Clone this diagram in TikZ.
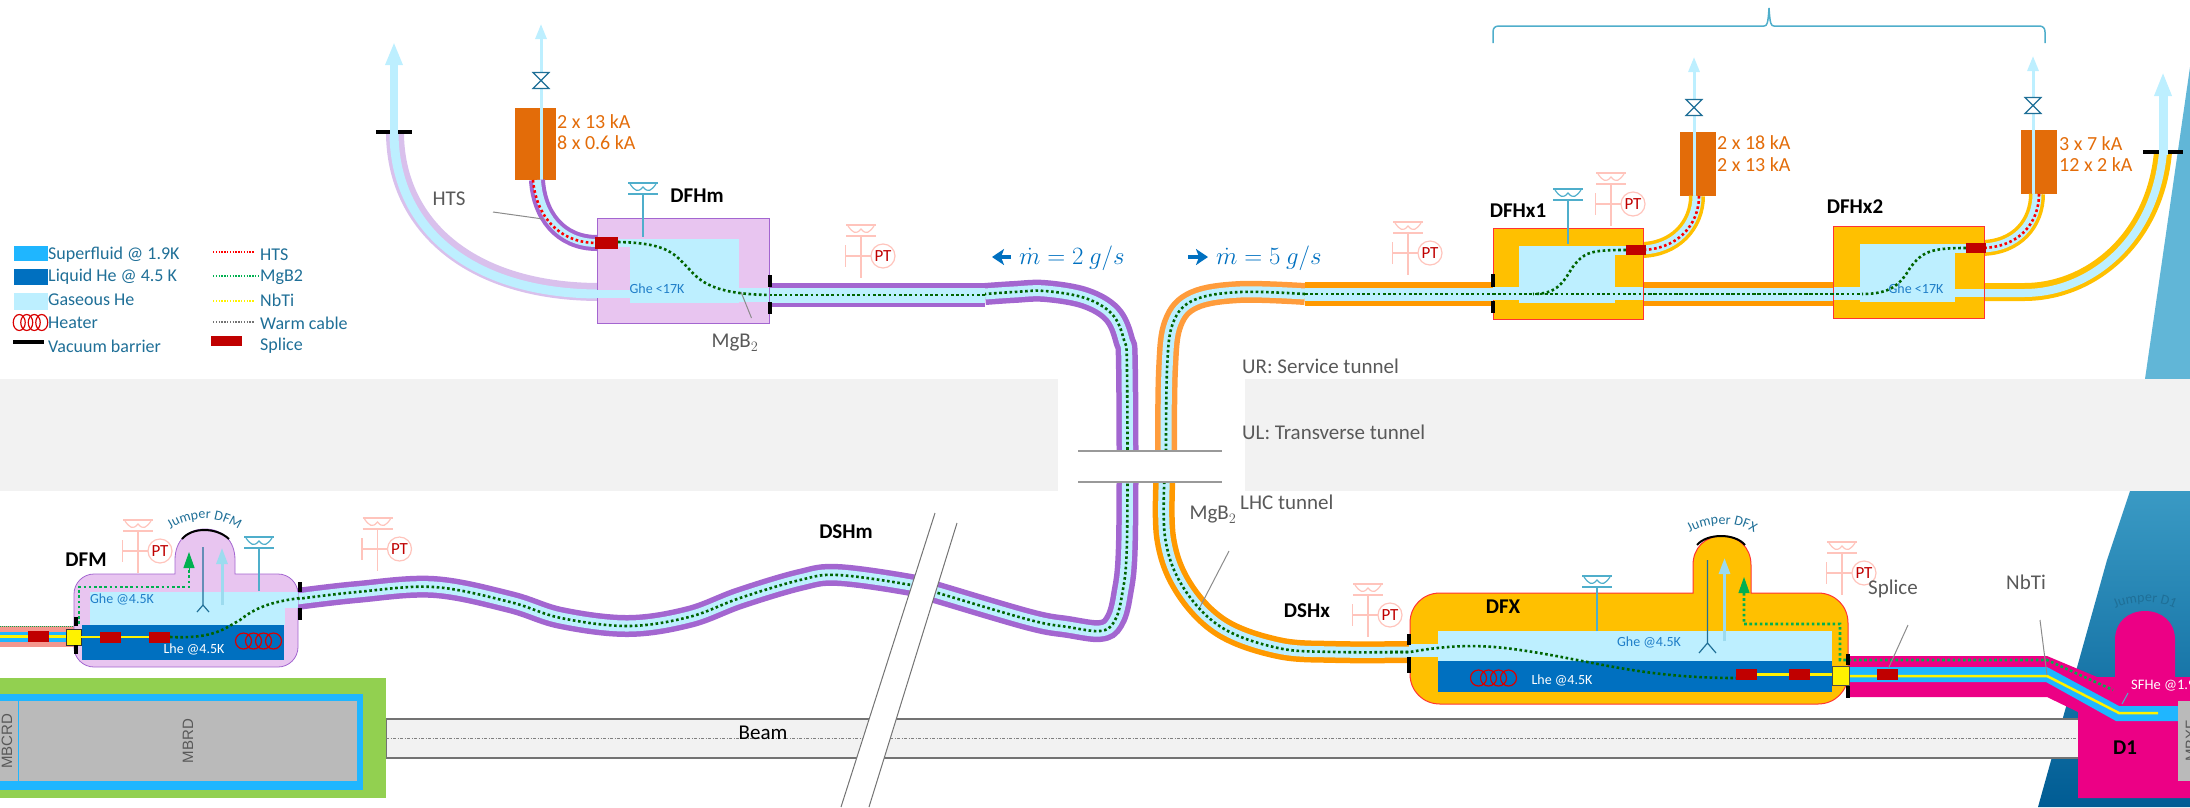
\documentclass[tikz,border=0pt]{standalone}
\usepackage{fontspec}
\setmainfont{Carlito}
\setsansfont{Liberation Sans}
\usetikzlibrary{arrows.meta,decorations.text}
\definecolor{hesf}{HTML}{1FB6FF}
\definecolor{helq}{HTML}{0070C0}
\definecolor{hegas}{HTML}{BDEFFF}
\definecolor{pipepurple}{HTML}{A366D0}
\definecolor{tubelilac}{HTML}{D9C0EC}
\definecolor{boxlilac}{HTML}{E8C5F0}
\definecolor{boxamber}{HTML}{FFC000}
\definecolor{pipeorange}{HTML}{FF9900}
\definecolor{pipepeach}{HTML}{FF9C3C}
\definecolor{leadorange}{HTML}{E36C09}
\definecolor{magentad}{HTML}{EC0085}
\definecolor{splicered}{HTML}{C00000}
\definecolor{wiredark}{HTML}{006400}
\definecolor{wiregreen}{HTML}{00B050}
\definecolor{txtblue}{HTML}{1F6F97}
\definecolor{ghetxt}{HTML}{1F7EC8}
\definecolor{graytxt}{HTML}{595959}
\definecolor{gaugeblue}{HTML}{4FAECB}
\definecolor{gaugepink}{HTML}{FFC4BC}
\definecolor{magnetgreen}{HTML}{92D050}
\definecolor{salmon}{HTML}{F4978E}
\definecolor{wedgetop}{HTML}{61B6D7}
\definecolor{wedgemid}{HTML}{3A9AC4}
\definecolor{wedgelow}{HTML}{005C94}
\tikzset{
  block/.style={inner sep=0pt, outer sep=0pt, draw=none},
  splice/.style={block, fill=splicered, minimum width=21pt, minimum height=11pt},
  barrier/.style={block, fill=black, minimum width=4pt},
  lbl/.style={inner sep=0pt, font=\fontsize{#1}{#1}\selectfont},
  lbl/.default=21,
  bold/.style={inner sep=0pt, font=\fontsize{21}{21}\selectfont\bfseries},
  tube/.style n args={3}{draw=#1, line width=#2pt, postaction={draw=hegas, line width=#3pt}},
  pipe/.style n args={3}{tube={#1}{#2}{#3},
    preaction={draw=black, opacity=0.1, transform canvas={yshift=-4pt}},
    postaction={draw=wiredark, line width=2.6pt, dash pattern=on 2.6pt off 2.6pt}},
  mgwire/.style={draw=wiredark, line width=2.6pt, dash pattern=on 2.6pt off 2.6pt},
  gwire/.style={draw=wiregreen, line width=2.6pt, dash pattern=on 2.6pt off 2.6pt},
  htswire/.style={draw=red, line width=2.6pt, dash pattern=on 2.6pt off 2.6pt},
  keywire/.style={line width=1.4pt, dash pattern=on 1.4pt off 1.4pt},
  leader/.style={draw=graytxt!70, line width=1pt},
  vent/.style={draw=hegas, line width=3pt, -{Triangle[length=15pt,width=11pt]}},
  pics/levelgauge/.style={code={
    \draw[gaugeblue, line width=2pt] (-15,-11) -- (15,-11) (-15,0) -- (15,0);
    \draw[gaugeblue, line width=1.2pt] (-13,-10) .. controls (-8,-3) and (-5,-1) .. (0,-7) .. controls (5,-1) and (8,-3) .. (13,-10);
    \draw[gaugeblue, line width=1.2pt] (0,0) -- (0,#1);
  }},
  pics/ptgauge/.style={code={
    \draw[gaugepink, line width=2pt] (-15,-31) -- (15,-31) (-15,-20) -- (15,-20);
    \draw[gaugepink, line width=1.2pt] (-13,-30) .. controls (-8,-23) and (-5,-21) .. (0,-27) .. controls (5,-21) and (8,-23) .. (13,-30);
    \draw[gaugepink, line width=1.2pt] (0,-20) -- (0,22) (-15.5,-11) -- (-15.5,11) (-15.5,0) -- (10,0);
    \node[circle, draw=gaugepink, line width=1.2pt, fill=white, minimum size=24pt, inner sep=0pt,
      text=splicered, font=\fontsize{17}{17}\selectfont] (-c) at (22,0) {PT};
  }},
  pics/heater/.style={code={
    \foreach \i in {-1.5,-0.5,0.5,1.5}
      \draw[red!85!black, line width=1.2pt] ({\i*#1},0) ellipse ({0.8*#1} and 8);
  }},
  pics/valve/.style={code={
    \draw[txtblue, line width=1.2pt, fill=white] (-8,-8) -- (8,-8) -- (-8,8) -- (8,8) -- cycle;
  }},
}
\begin{document}
\begin{tikzpicture}[x=1pt, y=-1pt, every node/.style={text=txtblue}]
  \useasboundingbox (0,0) rectangle (2190,807);

  % Blue corner
  \fill[wedgetop] (2190,67) -- (2145,379) -- (2190,379) -- cycle;
  \shade[top color=wedgemid, bottom color=wedgelow] (2130,491) -- (2107,560) -- (2038,807) -- (2190,807) -- (2190,491) -- cycle;

  % Tunnels
  \node[block, fill=black!5, minimum width=1058pt, minimum height=112pt] (bandl) at (529,435) {};
  \node[block, fill=black!5, minimum width=945pt, minimum height=112pt] (bandr) at (1717.5,435) {};
  \node[lbl, text=graytxt, anchor=west] (ur) at (1242,366) {UR: Service tunnel};
  \node[lbl, text=graytxt, anchor=west] (ul) at (1242,432) {UL: Transverse tunnel};
  \node[lbl, text=graytxt, anchor=west] (lhc) at (1240,502) {LHC tunnel};

  % Beam
  \node[block, draw=black!55, line width=1.5pt, fill=black!5, minimum width=1693pt, minimum height=39pt] (beam) at (1232.5,738.5) {};
  \draw[black!50, line width=0.7pt, dash pattern=on 3pt off 1.5pt on 1pt off 1.5pt] (beam.west) -- (beam.east);
  \node[lbl, text=black] (beamtxt) at (763,733) {Beam};

  % Arc magnet
  \node[block, fill=magnetgreen, minimum width=386pt, minimum height=120pt] (mgreen) at (193,738) {};
  \node[block, fill=hesf, minimum width=363pt, minimum height=96pt] (mblue) at (181.5,742) {};
  \node[block, fill=black!27, minimum width=357pt, minimum height=80pt] (mgray) at (178.5,741) {};
  \draw[hesf, line width=1pt] (18,701) -- (18,781);
  \node[rotate=90, inner sep=0pt, text=graytxt, font=\sffamily\fontsize{15}{15}\selectfont] (mbcrd) at (7,741) {MBCRD};
  \node[rotate=90, inner sep=0pt, text=graytxt, font=\sffamily\fontsize{15}{15}\selectfont] (mbrd) at (188,741) {MBRD};

  % Legend
  \node[block, fill=hesf, minimum width=34pt, minimum height=15pt] (keysf) at (31,253.5) {};
  \node[block, fill=helq, minimum width=34pt, minimum height=16pt] (keylq) at (31,277) {};
  \node[block, fill=hegas, minimum width=34pt, minimum height=17pt] (keygas) at (31,301.5) {};
  \pic (keyheat) at (30.5,322.5) {heater=7.5};
  \node[block, fill=black, minimum width=31pt, minimum height=4pt] (keybar) at (28.5,342) {};
  \node[lbl=18, anchor=west] (tsf) at (48,255) {Superfluid @ 1.9K};
  \node[lbl=18, anchor=west] (tlq) at (48,277) {Liquid He @ 4.5 K};
  \node[lbl=18, anchor=west] (tgas) at (48,300) {Gaseous He};
  \node[lbl=18, anchor=west] (theat) at (48,323) {Heater};
  \node[lbl=18, anchor=west] (tbar) at (48,346) {Vacuum barrier};
  \coordinate (kwa) at (213,252); \coordinate (kwb) at (254,252);
  \draw[keywire, red] (kwa) -- (kwb);
  \draw[keywire, wiregreen] (213,276) -- (259,276);
  \draw[keywire, yellow] (213,301) -- (254,301);
  \draw[keywire, black!55] (213,322) -- (254,322);
  \node[block, fill=splicered, minimum width=31pt, minimum height=10pt] (keysp) at (226.5,341) {};
  \node[lbl=18, anchor=west] (thts) at (260,255) {HTS};
  \node[lbl=18, anchor=west] (tmg) at (260,277) {MgB2};
  \node[lbl=18, anchor=west] (tnb) at (260,300) {NbTi};
  \node[lbl=18, anchor=west] (twarm) at (260,323) {Warm cable};
  \node[lbl=18, anchor=west] (tsp) at (260,346) {Splice};

  % DSHm pipe
  \node[bold, text=black] (dshm) at (846,532) {DSHm};
  \draw[pipe={pipepurple}{22}{11}] plot[smooth, tension=0.6] coordinates {(297,599) (357,592) (434,587) (510,602) (561,618) (628,626) (689,617) (740,598) (800,580) (838,575) (911,585) (938,593) (1030,620) (1068,627) (1100,631) (1114,622) (1122,595) (1127,540) (1127,370) (1124,340) (1112,314) (1085,298) (1045,291) (1014,292) (985,294)};
  \coordinate (mhl) at (769,295); \coordinate (mhr) at (985,295);
  \draw[pipe={pipepurple}{24}{15}] (mhl) -- (mhr);

  % DSHx pipe
  \node[bold, text=black] (dshx) at (1307,611) {DSHx};
  \draw[pipe={pipepeach}{22}{11}] plot[smooth, tension=0.6] coordinates {(1305,294) (1240,292) (1194,300) (1173,323) (1167,370) (1166,466)};
  \draw[pipe={pipeorange}{22}{11}] plot[smooth, tension=0.6] coordinates {(1165,466) (1165,537) (1183,587) (1221,627) (1278,648) (1336,652) (1412,652)};
  \coordinate (xhl) at (1305,294); \coordinate (xhr) at (1840,294);
  \draw[pipe={pipeorange}{24}{13}] (xhl) -- (xhr);

  % Breaks
  \node[block, fill=white, minimum width=144pt, minimum height=31pt] (gap) at (1150,466.5) {};
  \draw[black!40, line width=1.2pt] (gap.north west) -- (gap.north east) (gap.south west) -- (gap.south east);
  \coordinate (slta) at (935,513); \coordinate (sltb) at (957,523);
  \coordinate (slba) at (841,807); \coordinate (slbb) at (869,807);
  \fill[white] (slta) -- (sltb) -- (slbb) -- (slba) -- cycle;
  \draw[black!55, line width=1pt] (slta) -- (slba) (sltb) -- (slbb);

  % Mass flow
  \coordinate (mfla) at (1011,257); \coordinate (mflb) at (992,257);
  \draw[helq, line width=4pt, -{Stealth[length=12pt,width=16pt,inset=3pt]}] (mfla) -- (mflb);
  \node[inner sep=0pt, anchor=west, text=helq, font=\fontsize{24}{24}\selectfont] (mflt) at (1019,258) {$\dot{m}=2\ g/s$};
  \coordinate (mfra) at (1188,257); \coordinate (mfrb) at (1208,257);
  \draw[helq, line width=4pt, -{Stealth[length=12pt,width=16pt,inset=3pt]}] (mfra) -- (mfrb);
  \node[inner sep=0pt, anchor=west, text=helq, font=\fontsize{24}{24}\selectfont] (mfrt) at (1216,258) {$\dot{m}=5\ g/s$};

  % DFHm
  \draw[tubelilac, line width=18pt] (395,132) .. controls (395,225) and (470,292) .. (600,292);
  \draw[hegas, line width=9pt] (394,132) .. controls (394,228) and (470,294) .. (600,294);
  \node[block, fill=black, minimum width=36.5pt, minimum height=4pt] (barm) at (393.75,132) {};
  \coordinate (ventma) at (394,134); \coordinate (ventmb) at (394,42);
  \draw[draw=hegas, line width=8pt, -{Triangle[length=23pt,width=16pt]}] (ventma) -- (ventmb);
  \node[block, fill=leadorange, minimum width=41pt, minimum height=72pt] (leadm) at (535.5,144) {};
  \coordinate (lma) at (541,180); \coordinate (lmb) at (541,24);
  \draw[vent] (lma) -- (lmb);
  \pic (vm) at (541,80.5) {valve};
  \draw[tube={pipepurple}{16}{8}] (537,180) .. controls (539,215) and (560,243) .. (597,243);
  \draw[htswire] (533,180) .. controls (536,215) and (558,243) .. (597,243);
  \node[block, draw=pipepurple, line width=1pt, fill=boxlilac, minimum width=172pt, minimum height=105pt] (dfhm) at (683,270.5) {};
  \node[block, fill=hegas, minimum width=109pt, minimum height=64pt] (gasm) at (684.5,271) {};
  \node[block, fill=hegas, minimum width=12pt, minimum height=8pt] (gasma) at (624,243) {};
  \node[block, fill=hegas, minimum width=33pt, minimum height=8pt] (gasmb) at (613.5,294) {};
  \node[block, fill=hegas, minimum width=30pt, minimum height=14pt] (gasmc) at (754,295) {};
  \draw[mgwire] (618,242) .. controls (670,243) and (675,255) .. (690,270) .. controls (703,285) and (720,294) .. (769,295);
  \node[splice, minimum width=23pt, minimum height=12pt] (splm) at (606.5,243) {};
  \node[barrier, minimum height=12pt] (bma) at (770,281) {};
  \node[barrier, minimum height=12pt] (bmb) at (770,308) {};
  \pic (ltm) at (643,194) {levelgauge=43};
  \pic (ptm) at (861,256) {ptgauge};
  \node[bold, text=black] (dfhmt) at (697,196) {DFHm};
  \node[lbl=14, text=ghetxt] (ghem) at (657,289) {Ghe <17K};
  \node[lbl, text=graytxt] (mgm) at (735,343) {MgB$_2$};
  \draw[leader] (741,292) -- (751.5,318);
  \node[lbl, text=graytxt] (htsm) at (449,199) {HTS};
  \draw[leader] (493,212) -- (543,219);
  \node[lbl=20, text=leadorange, anchor=west] (kam) at (557,122) {2 x 13 kA};
  \node[lbl=20, text=leadorange, anchor=west] (kbm) at (557,143) {8 x 0.6 kA};

  % DFHx1
  \node[block, fill=leadorange, minimum width=36pt, minimum height=64pt] (leadx) at (1698,164) {};
  \coordinate (lxa) at (1694,196); \coordinate (lxb) at (1694,57);
  \draw[vent] (lxa) -- (lxb);
  \pic (vx) at (1694,107.5) {valve};
  \draw[tube={boxamber}{16}{9}] (1697,196) .. controls (1697,225) and (1675,250) .. (1640,250);
  \draw[htswire] (1699,196) .. controls (1699,225) and (1677,250) .. (1640,250);
  \node[block, draw=red!80, line width=1pt, fill=boxamber, minimum width=150pt, minimum height=91pt] (dfhxa) at (1568,273.5) {};
  \node[block, fill=hegas, minimum width=96pt, minimum height=57pt] (gasx) at (1567,274.5) {};
  \node[block, fill=hegas, minimum width=11pt, minimum height=9pt] (gasxa) at (1620.5,250.5) {};
  \node[block, fill=hegas, minimum width=26pt, minimum height=13pt] (gasxb) at (1506,293.5) {};
  \node[block, fill=hegas, minimum width=28pt, minimum height=13pt] (gasxc) at (1629,293.5) {};
  \node[barrier, minimum height=13pt] (bxa) at (1493,280.5) {};
  \node[barrier, minimum height=12pt] (bxb) at (1493,307) {};
  \pic (ltx) at (1568,200) {levelgauge=44};
  \pic (ptxa) at (1408,253) {ptgauge};
  \pic (ptxb) at (1611,204) {ptgauge};
  \node[bold, text=black] (dfhxat) at (1518,211) {DFHx1};
  \node[lbl=20, text=leadorange, anchor=west] (kax) at (1717,143) {2 x 18 kA};
  \node[lbl=20, text=leadorange, anchor=west] (kbx) at (1717,165) {2 x 13 kA};

  % DFHx2
  \draw[boxamber, line width=18pt] (1984,292) -- (2024,292) .. controls (2090,292) and (2155,240) .. (2163,152);
  \draw[hegas, line width=8pt] (1984,293) -- (2024,293) .. controls (2090,293) and (2155,241) .. (2163,152);
  \node[block, fill=black, minimum width=39.5pt, minimum height=4pt] (barx) at (2162.75,152) {};
  \coordinate (ventxa) at (2163,155); \coordinate (ventxb) at (2163,72);
  \draw[draw=hegas, line width=9pt, -{Triangle[length=24pt,width=16pt]}] (ventxa) -- (ventxb);
  \node[block, fill=leadorange, minimum width=36pt, minimum height=64pt] (leady) at (2039,162) {};
  \coordinate (lya) at (2033,194); \coordinate (lyb) at (2033,56);
  \draw[vent] (lya) -- (lyb);
  \pic (vy) at (2033,105.5) {valve};
  \draw[tube={boxamber}{16}{9}] (2037,194) .. controls (2037,222) and (2018,248) .. (1980,248);
  \draw[htswire] (2039,194) .. controls (2039,222) and (2020,248) .. (1980,248);
  \node[block, draw=red!80, line width=1pt, fill=boxamber, minimum width=150.5pt, minimum height=92pt] (dfhxb) at (1908.75,272) {};
  \node[block, fill=hegas, minimum width=95pt, minimum height=58pt] (gasy) at (1907.5,273) {};
  \node[block, fill=hegas, minimum width=11pt, minimum height=9pt] (gasya) at (1960.5,248.5) {};
  \node[block, fill=hegas, minimum width=27pt, minimum height=13pt] (gasyb) at (1847,293.5) {};
  \node[block, fill=hegas, minimum width=29pt, minimum height=8pt] (gasyc) at (1969.5,293) {};
  \node[lbl=14, text=ghetxt] (ghey) at (1916,289) {Ghe <17K};
  \node[bold, text=black] (dfhxbt) at (1855,207) {DFHx2};
  \node[lbl=20, text=leadorange, anchor=west] (kay) at (2059,144) {3 x 7 kA};
  \node[lbl=20, text=leadorange, anchor=west] (kby) at (2059,165) {12 x 2 kA};

  % Cables in the current feedboxes
  \coordinate (wxa) at (1493,294); \coordinate (wxb) at (1862,294);
  \draw[mgwire] (wxa) -- (wxb);
  \draw[mgwire] (1626,250) .. controls (1590,250) and (1584,252) .. (1572,268) .. controls (1562,285) and (1555,294) .. (1533,294);
  \draw[mgwire] (1966,248) .. controls (1930,248) and (1922,252) .. (1910,268) .. controls (1900,285) and (1890,294) .. (1862,294);
  \node[splice, minimum width=20pt, minimum height=10pt] (splx) at (1636,250) {};
  \node[splice, minimum width=20pt, minimum height=10pt] (sply) at (1976,248) {};

  % Brace
  \draw[gaugeblue, line width=1.5pt] (1493,43) -- (1493,32) .. controls (1493,28) and (1495,26) .. (1499,26) -- (1764,26) .. controls (1767,26) and (1768,24) .. (1769,8) .. controls (1770,24) and (1771,26) .. (1774,26) -- (2039,26) .. controls (2043,26) and (2045,28) .. (2045,32) -- (2045,43);

  % DFM
  \fill[salmon] (0,626) rectangle (74,647);
  \fill[hesf] (0,632) rectangle (74,642);
  \draw[yellow, line width=2.5pt] (0,636.5) -- (74,636.5);
  \draw[wiregreen, line width=1pt, dash pattern=on 1pt off 1pt] (0,626) -- (74,626);
  \node[splice] (spla) at (38.5,636.5) {};
  \draw[draw=pipepurple, line width=0.8pt, fill=boxlilac] (94,574) -- (175,574) -- (175,560) .. controls (175,540) and (188,529) .. (205,529) .. controls (222,529) and (235,540) .. (235,560) -- (235,574) -- (278,574) .. controls (289,574) and (298,583) .. (298,594) -- (298,647) .. controls (298,658) and (289,667) .. (278,667) -- (94,667) .. controls (83,667) and (74,658) .. (74,647) -- (74,594) .. controls (74,583) and (83,574) .. (94,574) -- cycle;
  \fill[hegas] (90,592) rectangle (285,625);
  \fill[hegas] (285,592) rectangle (298,608);
  \fill[helq] (82,625) rectangle (284,660);
  \node[block, draw=black!80, line width=1pt, fill=yellow, minimum width=15pt, minimum height=16pt] (yboxm) at (73.5,637) {};
  \draw[yellow, line width=2.5pt] (yboxm.east) -- (149,637);
  \draw[mgwire] (170,637) .. controls (215,639) and (225,628) .. (240,620) .. controls (255,608) and (270,602) .. (300,598);
  \node[splice] (splb) at (110.5,637) {};
  \node[splice] (splc) at (159.5,637) {};
  \draw[gwire] (79,624) -- (79,587) -- (189,587) -- (189,568);
  \coordinate (jga) at (189,570); \coordinate (jgb) at (189,552);
  \draw[draw=wiregreen, line width=1pt, -{Triangle[length=16pt,width=11pt]}] (jga) -- (jgb);
  \coordinate (jla) at (222,605); \coordinate (jlb) at (222,548);
  \draw[draw=hegas!70!gaugeblue, line width=3pt, -{Triangle[length=16pt,width=11pt]}] (jla) -- (jlb);
  \draw[txtblue, line width=1.2pt] (203,547) -- (203,605) (197,612) -- (203,605) -- (209,612);
  \draw[black, line width=2pt] (182,539) .. controls (192,527) and (216,527) .. (229,539);
  \draw[decoration={text along path, text align=center, text={|\fontsize{14}{14}\selectfont\color{txtblue}|Jumper DFM}}, decorate] (165,533) .. controls (190,514) and (220,514) .. (244,533);
  \node[barrier, minimum height=9pt] (bfa) at (75.5,621.5) {};
  \node[barrier, minimum height=9pt] (bfb) at (75.5,649.5) {};
  \node[barrier, minimum height=10pt] (bfc) at (299.5,587) {};
  \node[barrier, minimum height=12pt] (bfd) at (299.5,614) {};
  \pic (htf) at (258.5,641) {heater=10};
  \pic (ltf) at (259,548) {levelgauge=43};
  \pic (ptfa) at (138,551) {ptgauge};
  \pic (ptfb) at (377.5,549) {ptgauge};
  \node[bold, text=black] (dfm) at (86,560) {DFM};
  \node[lbl=14, text=ghetxt] (ghef) at (122,599) {Ghe @4.5K};
  \node[lbl=14, text=white] (lhef) at (194,649) {Lhe @4.5K};

  % D1 and its line
  \fill[magentad] (1848,656) -- (2047,656) -- (2097,677) -- (2115,677) -- (2115,640) .. controls (2115,622) and (2128,611) .. (2145,611) .. controls (2162,611) and (2175,622) .. (2175,640) -- (2175,677) -- (2190,677) -- (2190,798) -- (2078,798) -- (2078,712) -- (2047,697) -- (1848,697) -- cycle;
  \fill[hesf] (1848,667) -- (2047,667) -- (2119,706) -- (2190,706) -- (2190,721) -- (2116,721) -- (2046,682) -- (1848,682) -- cycle;
  \node[block, fill=black!27, minimum width=12pt, minimum height=80pt] (mbxf) at (2184,741) {};
  \node[rotate=90, inner sep=0pt, text=graytxt, font=\sffamily\fontsize{15}{15}\selectfont] (mbxft) at (2191,741) {MBXF};
  \coordinate (nba) at (1849,676); \coordinate (nbb) at (2158,713);
  \draw[yellow, line width=2.5pt] (nba) -- (2047,676) -- (2119,713) -- (nbb);
  \node[splice] (spld) at (1887.5,674.5) {};
  \node[lbl=14.5, text=white, anchor=west] (sfhe) at (2131,686) {SFHe @1.9K};
  \draw[gaugeblue, line width=1pt] (2128,693) -- (2122,704);
  \node[bold, text=black] (dfa) at (2125,748) {D1};
  \draw[decoration={text along path, text align=center, text={|\fontsize{14}{14}\selectfont\color{txtblue}|Jumper D1}}, decorate] (2110,611) .. controls (2130,599) and (2160,599) .. (2180,611);

  % DFX
  \draw[draw=red!80, line width=1pt, fill=boxamber] (1440,593) -- (1693,593) -- (1693,565) .. controls (1693,548) and (1705,536) .. (1722,536) .. controls (1739,536) and (1751,548) .. (1751,565) -- (1751,593) -- (1818,593) .. controls (1835,593) and (1848,606) .. (1848,623) -- (1848,674) .. controls (1848,691) and (1835,704) .. (1818,704) -- (1440,704) .. controls (1423,704) and (1410,691) .. (1410,674) -- (1410,623) .. controls (1410,606) and (1423,593) .. (1440,593) -- cycle;
  \fill[hegas] (1438,631) rectangle (1832,661);
  \fill[hegas] (1409,644) rectangle (1438,657);
  \fill[helq] (1438,661) rectangle (1832,692);
  \coordinate (wda) at (1390,652);
  \draw[mgwire] (wda) -- (1410,652) .. controls (1450,645) and (1480,644) .. (1520,650) .. controls (1590,660) and (1640,678) .. (1736,678);
  \draw[yellow, line width=2.5pt] (1757,674.5) -- (1832,674.5);
  \node[splice] (sple) at (1746.5,674.5) {};
  \node[splice] (splf) at (1799.5,674.5) {};
  \node[block, draw=black!70, line width=1pt, fill=yellow, minimum width=17pt, minimum height=19pt] (yboxx) at (1840.5,675.5) {};
  \draw[gwire] (1744,593) -- (1744,624) -- (1840,624) -- (1840,660) -- (2047,660) -- (2113,690);
  \coordinate (jxa) at (1744,595); \coordinate (jxb) at (1744,577);
  \draw[draw=wiregreen, line width=1pt, -{Triangle[length=16pt,width=11pt]}] (jxa) -- (jxb);
  \coordinate (jya) at (1724.5,641); \coordinate (jyb) at (1724.5,558);
  \draw[draw=hegas!70!gaugeblue, line width=3pt, -{Triangle[length=16pt,width=11pt]}] (jya) -- (jyb);
  \draw[txtblue, line width=1.2pt] (1707.5,560) -- (1707.5,643) (1699,653) -- (1707.5,643) -- (1716,653);
  \draw[black, line width=2pt] (1697,545) .. controls (1707,533) and (1735,533) .. (1745,545);
  \draw[decoration={text along path, text align=center, text={|\fontsize{14}{14}\selectfont\color{txtblue}|Jumper DFX}}, decorate] (1684,536) .. controls (1707,520) and (1737,520) .. (1760,536);
  \node[barrier, minimum height=11pt] (bda) at (1409,639.5) {};
  \node[barrier, minimum height=16pt] (bdb) at (1409,665) {};
  \node[barrier, minimum height=11pt] (bdc) at (1848,659.5) {};
  \node[barrier, minimum height=12pt] (bdd) at (1848,692) {};
  \pic (htd) at (1493.5,678) {heater=10};
  \pic (ltd) at (1597,587) {levelgauge=44};
  \pic (ptda) at (1368,615) {ptgauge};
  \pic (ptdb) at (1842,573) {ptgauge};
  \node[bold, text=black] (dfx) at (1503,607) {DFX};
  \node[lbl=14, text=ghetxt] (ghed) at (1649,642) {Ghe @4.5K};
  \node[lbl=14, text=white] (lhed) at (1562,680) {Lhe @4.5K};

  % Leaders
  \node[lbl, text=graytxt] (splt) at (1893,589) {Splice};
  \draw[leader] (1908,625) -- (1888.5,668);
  \node[lbl, text=graytxt] (nbt) at (2026,582) {NbTi};
  \draw[leader] (2040,620) -- (2047,675);
  \node[lbl, text=graytxt] (mgx) at (1213,515) {MgB$_2$};
  \draw[leader] (1229,551) -- (1200,607);
\end{tikzpicture}
\end{document}
